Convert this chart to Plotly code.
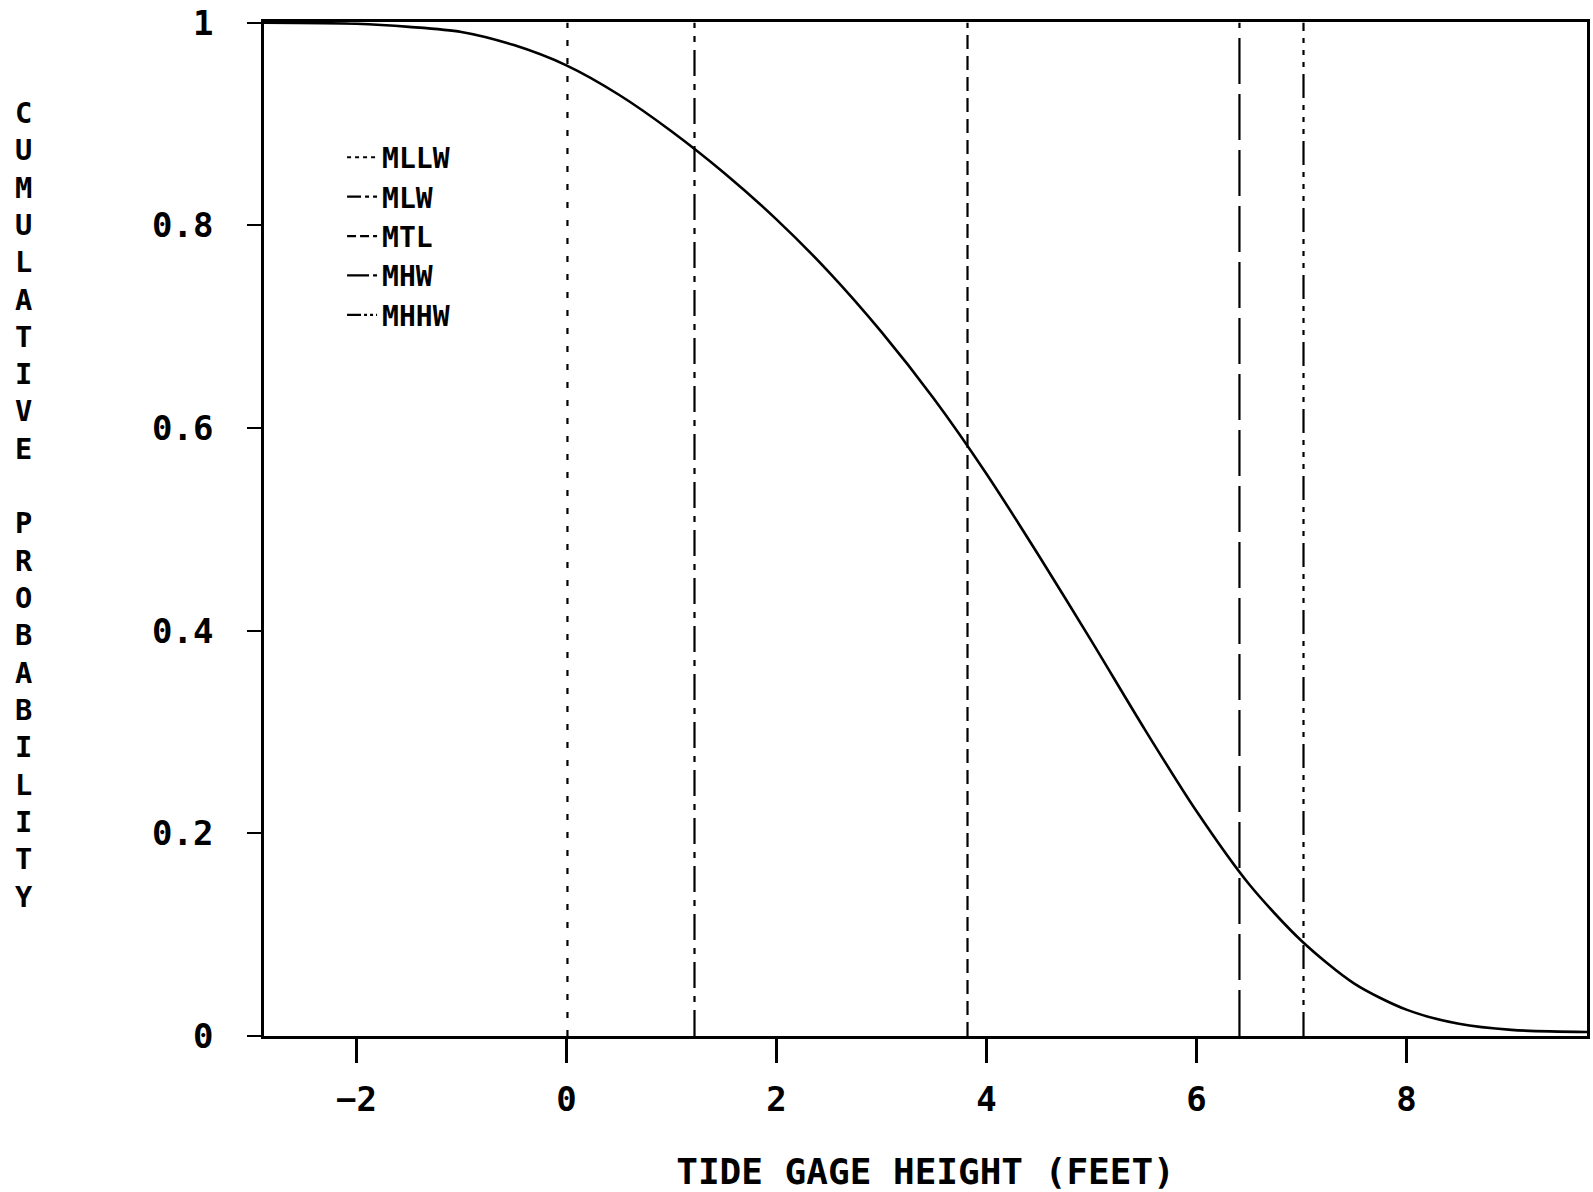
import plotly.graph_objects as go

# Cumulative probability curve
height_ft = [-2.88, -2.0, -1.5, -1.0, -0.5, 0.0, 0.5, 1.0, 1.5, 2.0, 2.5, 3.0, 3.5, 4.0,
             4.5, 5.0, 5.5, 6.0, 6.5, 7.0, 7.5, 8.0, 8.5, 9.0, 9.72]
cum_prob = [1.0, 0.999, 0.996, 0.991, 0.978, 0.958, 0.929, 0.893, 0.852, 0.806, 0.754, 0.695,
            0.629, 0.555, 0.474, 0.390, 0.304, 0.222, 0.150, 0.094, 0.052, 0.026, 0.012,
            0.006, 0.004]

# Tidal datums (feet)
datum_names = ["MLLW", "MLW", "MTL", "MHW", "MHHW"]
datum_values = [0.01, 1.22, 3.82, 6.41, 7.02]
datum_dashes = ["6px,12px", "26px,8px,6px,8px", "14px,7px", "46px,10px",
                "24px,7px,5px,7px,5px,7px,5px,7px"]
legend_dashes = ["4px,4px", "14px,4px,4px,4px", "9px,4px", "22px,4px",
                 "14px,3px,3px,3px,3px,3px,3px,3px"]

x_ticks = [-2, 0, 2, 4, 6, 8]
y_ticks = [0, 0.2, 0.4, 0.6, 0.8, 1]
y_tick_text = ["0", "0.2", "0.4", "0.6", "0.8", "1"]

FONT = "DejaVu Sans Mono"

fig = go.Figure()
for name, val, dash, ldash in zip(datum_names, datum_values, datum_dashes, legend_dashes):
    fig.add_trace(go.Scatter(x=[val, val], y=[0, 1], mode="lines", name=name,
                             showlegend=False, legendgroup=name,
                             line=dict(color="black", width=2.2, dash=dash)))
    fig.add_trace(go.Scatter(x=[None], y=[None], mode="lines", name=name,
                             showlegend=True, legendgroup=name,
                             line=dict(color="black", width=2.2, dash=ldash)))
fig.add_trace(go.Scatter(x=height_ft, y=cum_prob, mode="lines", showlegend=False,
                         line=dict(color="black", width=2.6, shape="spline", smoothing=0.8)))

ylabel = "CUMULATIVE PROBABILITY"
ylabel_html = "<br>".join(ch if ch != " " else " " for ch in ylabel)

fig.update_layout(
    width=1593, height=1192,
    margin=dict(l=264, r=3, t=19, b=156),
    paper_bgcolor="white", plot_bgcolor="white",
    font=dict(family=FONT, color="black", size=34, weight="bold"),
    showlegend=True,
    legend=dict(x=0.059, y=0.891, xanchor="left", yanchor="top",
                bgcolor="rgba(0,0,0,0)", font=dict(size=28, family=FONT, weight="bold"),
                itemwidth=30, tracegroupgap=0),
    xaxis=dict(range=[-2.88, 9.72], tickvals=x_ticks, ticks="outside", ticklen=24,
               tickwidth=2.5, tickcolor="black", showgrid=False, zeroline=False,
               showline=True, linecolor="black", linewidth=2.5, mirror=True,
               ticklabelstandoff=7, ticklabeloverflow="allow",
               tickfont=dict(size=34, family=FONT, weight="bold"),
               title=dict(text="TIDE GAGE HEIGHT (FEET)", standoff=42,
                          font=dict(size=36, family=FONT, weight="bold"))),
    yaxis=dict(range=[0, 1.0008], tickvals=y_ticks, ticktext=y_tick_text, ticks="outside",
               ticklen=14, tickwidth=2, tickcolor="black", showgrid=False, zeroline=False,
               showline=True, linecolor="black", linewidth=2.5, mirror=True,
               ticklabelstandoff=27, ticklabeloverflow="allow",
               tickfont=dict(size=34, family=FONT, weight="bold")),
    annotations=[dict(text=ylabel_html, xref="paper", yref="paper", x=0, y=0.5,
                      xshift=-240, yshift=24, showarrow=False, xanchor="center",
                      yanchor="middle", align="center",
                      font=dict(size=28.7, family=FONT, weight="bold"))],
)

fig.write_html("out.html", config={"displayModeBar": False},
               post_script="document.body.style.margin='0';")
